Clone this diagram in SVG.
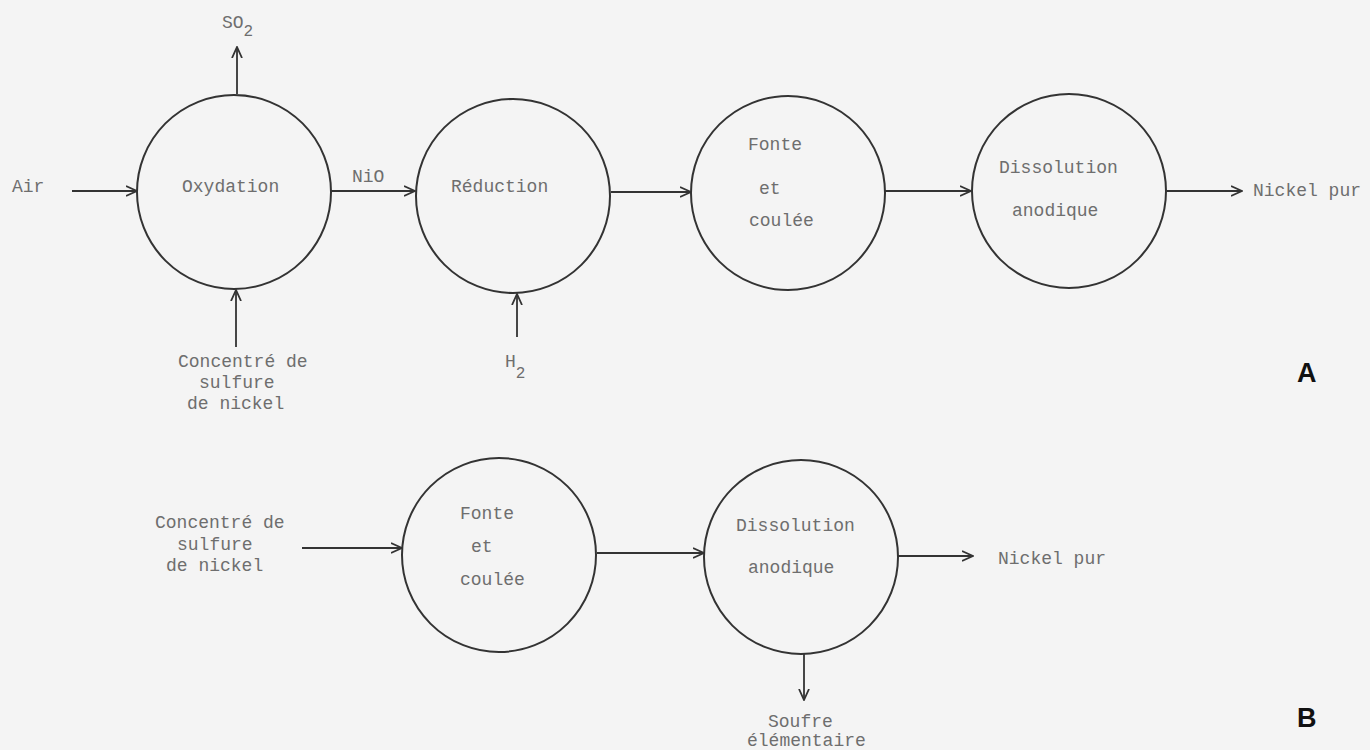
<svg xmlns="http://www.w3.org/2000/svg" width="1370" height="750" viewBox="0 0 1370 750">
<style>
.node circle{fill:none;stroke:#333;stroke-width:2}
text{font-family:"Liberation Mono","DejaVu Sans Mono",monospace;font-size:18px;fill:#6e6e6e}
.sub{font-size:16px}
.lbl{font-family:"Liberation Sans",Arial,sans-serif;font-weight:bold;font-size:27px;fill:#111}
#connectors path{fill:none;stroke:#333;stroke-width:1.8;marker-end:url(#arr)}
</style>
<defs>
<marker id="arr" viewBox="0 0 12 12" refX="11" refY="6" markerWidth="12" markerHeight="12" markerUnits="userSpaceOnUse" orient="auto">
<path d="M0,1 L11,6 L0,11" fill="none" stroke="#333" stroke-width="1.8"/>
</marker>
</defs>
<rect width="1370" height="750" fill="#f4f4f4"/>

<g id="connectors">
<path d="M72,191 H137"/>
<path d="M331,191 H415"/>
<path d="M611,192 H691"/>
<path d="M885,191 H971"/>
<path d="M1167,191 H1242"/>
<path d="M237,94 V47"/>
<path d="M236,347 V290"/>
<path d="M517,337 V294"/>
<path d="M302,548 H402"/>
<path d="M597,553 H704"/>
<path d="M898,556 H973"/>
<path d="M804,654 V700"/>
</g>

<g id="oxydation" class="node">
<circle cx="234" cy="192" r="97"/>
<text x="182" y="192">Oxydation</text>
</g>
<g id="reduction" class="node">
<circle cx="513" cy="196" r="97"/>
<text x="451" y="192">Réduction</text>
</g>
<g id="fonte-a" class="node">
<circle cx="788" cy="193" r="97"/>
<text x="748" y="150">Fonte</text>
<text x="759" y="194">et</text>
<text x="749" y="226">coulée</text>
</g>
<g id="dissolution-a" class="node">
<circle cx="1069" cy="191" r="97"/>
<text x="999" y="173">Dissolution</text>
<text x="1012" y="216">anodique</text>
</g>
<g id="fonte-b" class="node">
<circle cx="499" cy="555" r="97"/>
<text x="460" y="519">Fonte</text>
<text x="471" y="552">et</text>
<text x="460" y="585">coulée</text>
</g>
<g id="dissolution-b" class="node">
<circle cx="801" cy="557" r="97"/>
<text x="736" y="531">Dissolution</text>
<text x="748" y="573">anodique</text>
</g>

<g id="labels">
<text x="12" y="192">Air</text>
<text x="222" y="28">SO<tspan class="sub" dy="8">2</tspan></text>
<text x="352" y="182">NiO</text>
<text x="178" y="367">Concentré de</text>
<text x="199" y="388">sulfure</text>
<text x="187" y="409">de nickel</text>
<text x="505" y="367">H<tspan class="sub" dy="11">2</tspan></text>
<text x="1253" y="196">Nickel pur</text>
<text class="lbl" x="1297" y="382">A</text>
<text x="155" y="528">Concentré de</text>
<text x="177" y="550">sulfure</text>
<text x="166" y="571">de nickel</text>
<text x="998" y="564">Nickel pur</text>
<text x="768" y="727">Soufre</text>
<text x="747" y="746">élémentaire</text>
<text class="lbl" x="1297" y="727">B</text>
</g>
</svg>
